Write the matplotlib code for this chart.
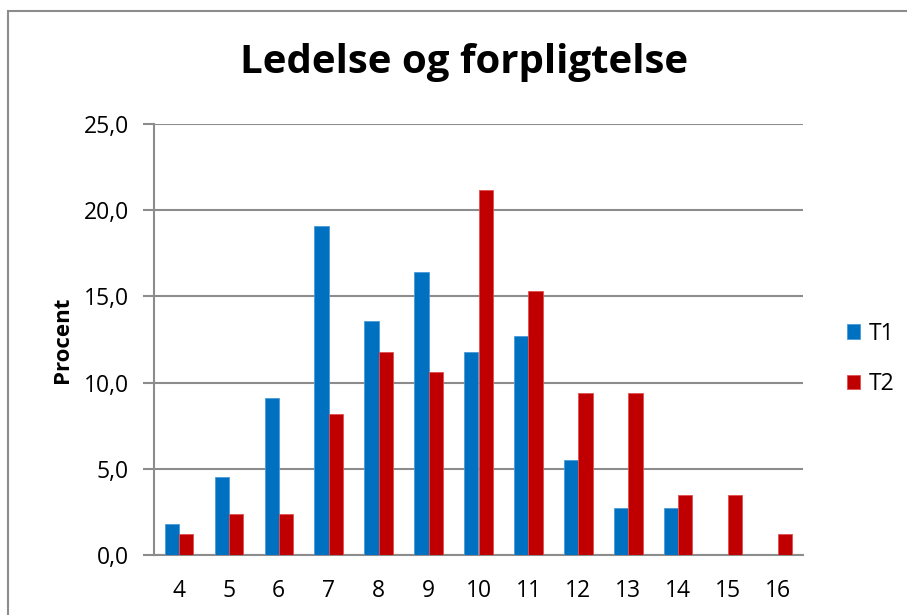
import numpy as np
import matplotlib.pyplot as plt
from matplotlib.patches import Rectangle
from matplotlib.ticker import FuncFormatter

# score categories and percentages per round
categories = ['4', '5', '6', '7', '8', '9', '10', '11', '12', '13', '14', '15', '16']
t1 = [1.8, 4.5, 9.1, 19.1, 13.6, 16.4, 11.8, 12.7, 5.5, 2.7, 2.7, 0.0, 0.0]
t2 = [1.2, 2.4, 2.4, 8.2, 11.8, 10.6, 21.2, 15.3, 9.4, 9.4, 3.5, 3.5, 1.2]
series_names = ['T1', 'T2']
yticks = [0, 5, 10, 15, 20, 25]

plt.rcParams['font.family'] = ['Open Sans', 'DejaVu Sans']

W, H = 907, 615
fig = plt.figure(figsize=(W / 100, H / 100), dpi=100)

# chart frame (runs off the right and bottom edge)
fig.patches.append(Rectangle((8 / W, -0.1), 1.2, 1.1 - 11 / H, transform=fig.transFigure,
                             fill=False, edgecolor='#8c8c8c', linewidth=1.5))

ax = fig.add_axes([154 / W, 1 - 555 / H, (803 - 154) / W, (555 - 124) / H])

x = np.arange(len(categories))
w = 1 / 3.5
ax.bar(x - w / 2, t1, w, color='#0070C0', edgecolor='#4a9bd6', linewidth=0.6, label=series_names[0], zorder=3)
ax.bar(x + w / 2, t2, w, color='#C00000', edgecolor='#e05050', linewidth=0.6, label=series_names[1], zorder=3)

ax.set_xlim(-0.5, len(categories) - 0.5)
ax.set_ylim(0, 25)
ax.set_xticks(x)
ax.set_xticklabels(categories)
ax.set_yticks(yticks)
ax.yaxis.set_major_formatter(FuncFormatter(lambda v, p: f'{v:.1f}'.replace('.', ',')))
ax.grid(axis='y', color='#8c8c8c', linewidth=1.5, zorder=0)

for s in ['top', 'right']:
    ax.spines[s].set_visible(False)
ax.spines['left'].set_color('#8c8c8c')
ax.spines['left'].set_linewidth(1.5)
ax.spines['bottom'].set_color('#8c8c8c')
ax.spines['bottom'].set_linewidth(1.5)
ax.tick_params(axis='x', length=0, labelsize=16.5, pad=17)
ax.tick_params(axis='y', length=8, width=1.5, color='#8c8c8c', labelsize=16.5, pad=10)

ax.set_ylabel('Procent', fontsize=16, fontweight='bold', labelpad=8)
fig.text(464 / W, 1 - 62 / H, 'Ledelse og forpligtelse', ha='center', va='center',
         fontsize=29, fontweight='bold')

ax.legend(loc='center left', bbox_to_anchor=(826 / W, 1 - 359 / H), bbox_transform=fig.transFigure,
          frameon=False, fontsize=16.5, handlelength=0.6, handleheight=0.6, handletextpad=0.35,
          labelspacing=1.15)

fig.savefig('out.png', dpi=100)
